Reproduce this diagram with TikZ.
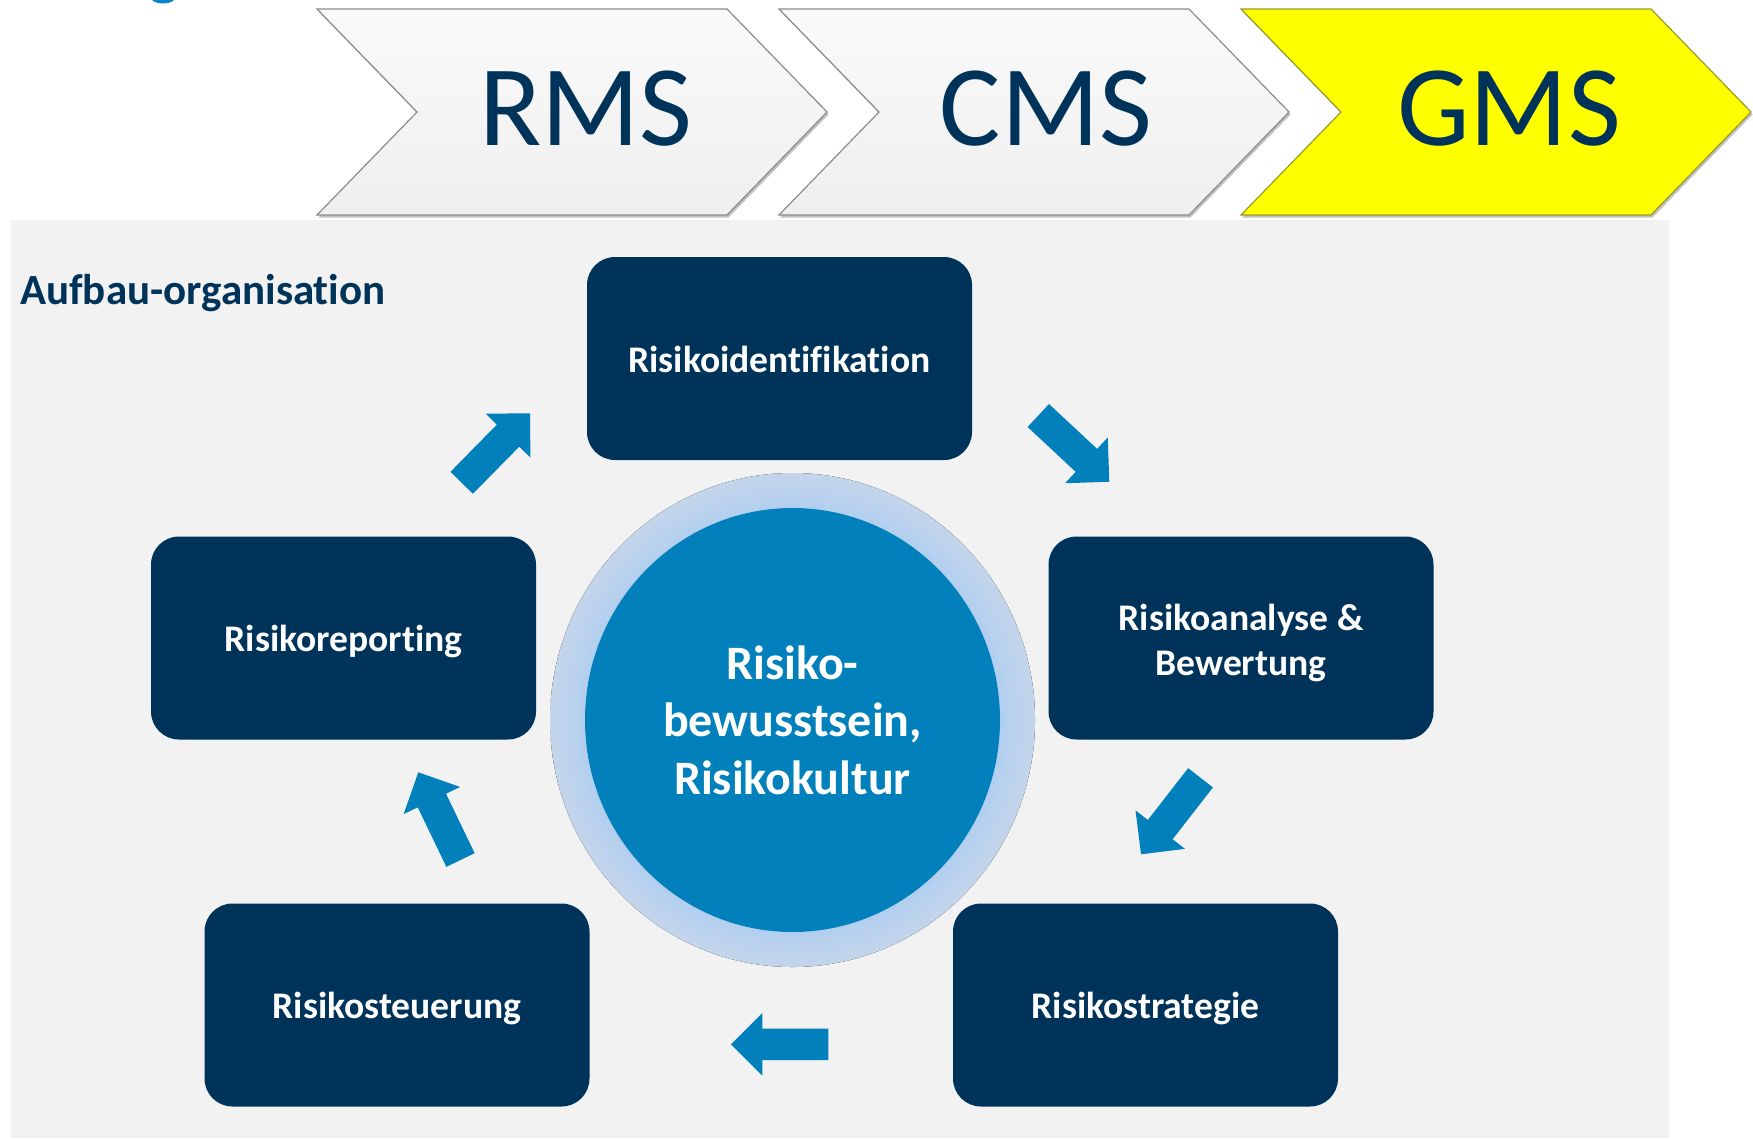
\documentclass[tikz,border=0pt]{standalone}
\usepackage{fontspec}
\setmainfont[Ligatures=NoCommon]{Carlito}
\usetikzlibrary{calc,shadows}
\definecolor{navy}{HTML}{003359}
\definecolor{arrowblue}{HTML}{0280BC}
\definecolor{panelgray}{HTML}{F2F2F2}
\definecolor{chevedge}{HTML}{8C8C8C}
\definecolor{chevtop}{HTML}{FAFAFA}
\definecolor{chevbot}{HTML}{EFEFEF}
\definecolor{gmsyellow}{HTML}{FFFF00}
\definecolor{gmsedge}{HTML}{9A9A28}
\definecolor{glowin}{HTML}{B2CFF0}
\definecolor{glowout}{HTML}{C4D5EA}
\definecolor{fragblue}{HTML}{0A84CC}
\pgfdeclareradialshading{glowshade}{\pgfpoint{0bp}{0bp}}{color(0bp)=(glowin); color(21.4bp)=(glowin); color(25bp)=(glowout); color(50bp)=(glowout)}
\newcommand\blkarrow[2]{%
  \coordinate (ab) at ($(#2)!31.3pt!(#1)$);
  \fill[arrowblue] ($(#1)!15.7pt!90:(#2)$) -- ($(ab)!15.7pt!-90:(#1)$) -- ($(ab)!31.3pt!-90:(#1)$) -- (#2)
     -- ($(ab)!31.3pt!90:(#1)$) -- ($(ab)!15.7pt!90:(#1)$) -- ($(#1)!15.7pt!-90:(#2)$) -- cycle;}
\begin{document}
\begin{tikzpicture}[x=1pt,y=-1pt,
  chev/.style={draw=chevedge, line width=1.2pt, top color=chevtop, bottom color=chevbot,
    drop shadow={shadow xshift=1.5pt, shadow yshift=-2.5pt, opacity=.35, fill=black!70}},
  chevtext/.style={text=navy, font=\fontsize{115}{120}\selectfont, anchor=base, inner sep=0},
  stepbox/.style={fill=navy, rounded corners=28pt, minimum width=385pt, minimum height=203pt,
    inner sep=0, text=white, align=center, font=\bfseries\fontsize{37.6}{45}\selectfont},
  steptext/.style={inner sep=0, text=white, align=center, font=\bfseries\fontsize{37.6}{45}\selectfont},
  onel/.style={text height=27pt, text depth=0pt}]
\useasboundingbox (0,0) rectangle (1753,1138);
\fill[white] (0,0) rectangle (1753,1138);
\begin{scope}
  \clip (0,0) rectangle (1753,1138);
  \fill[fragblue] (163,-3) ellipse [x radius=12.5, y radius=6.5];
\end{scope}
% panel
\fill[panelgray] (11,220) rectangle (1669,1138);
% chevrons
\path[chev] (317,9) -- (727,9) -- (827,112) -- (727,215) -- (317,215) -- (417,112) -- cycle;
\path[chev] (779,9) -- (1189,9) -- (1289,112) -- (1189,215) -- (779,215) -- (879,112) -- cycle;
\path[chev, draw=gmsedge, top color=gmsyellow, bottom color=gmsyellow] (1241,9) -- (1651,9) -- (1751,112) -- (1651,215) -- (1241,215) -- (1341,112) -- cycle;
\node[chevtext] (rms) at (586,145) {RMS};
\node[chevtext] (cms) at (1046,145) {CMS};
\node[chevtext] (gms) at (1509,145) {GMS};
% title
\node[anchor=base west, inner sep=0, text=navy, font=\bfseries\fontsize{43}{50}\selectfont] (title) at (20,304) {Aufbau-organisation};
% centre circle
\fill[shading=glowshade] (792.5,720) ellipse [x radius=242.5, y radius=247];
\fill[arrowblue] (792.5,720) ellipse [x radius=207.5, y radius=212];
\node[text=white, align=center, inner sep=0, font=\bfseries\fontsize{48}{57.5}\selectfont] (kultur) at (792.5,720) {Risiko-\\bewusstsein,\\Risikokultur};
% boxes
\node[stepbox, onel] (ident) at (779.5,358.5) {Risikoidentifikation};
\node[stepbox] (analyse) at (1241,638) {};
\node[steptext] (analyseT) at (1241,643) {Risikoanalyse \&\\Bewertung};
\node[stepbox, onel] (strat) at (1145.5,1005) {Risikostrategie};
\node[stepbox, onel] (steuer) at (397,1005) {Risikosteuerung};
\node[stepbox, onel] (report) at (343.5,638) {Risikoreporting};
% block arrows
\coordinate (a1t) at (461.7,482.8); \coordinate (a1p) at (530,413.3);
\coordinate (a2t) at (1038.3,415.5); \coordinate (a2p) at (1109.3,481.7);
\coordinate (a3t) at (1200.5,777.8); \coordinate (a3p) at (1141,854.3);
\coordinate (a4t) at (828.3,1044.3); \coordinate (a4p) at (731,1044.3);
\coordinate (a5t) at (460.5,860); \coordinate (a5p) at (418.3,772.3);
\blkarrow{a1t}{a1p}
\blkarrow{a2t}{a2p}
\blkarrow{a3t}{a3p}
\blkarrow{a4t}{a4p}
\blkarrow{a5t}{a5p}
\end{tikzpicture}
\end{document}
